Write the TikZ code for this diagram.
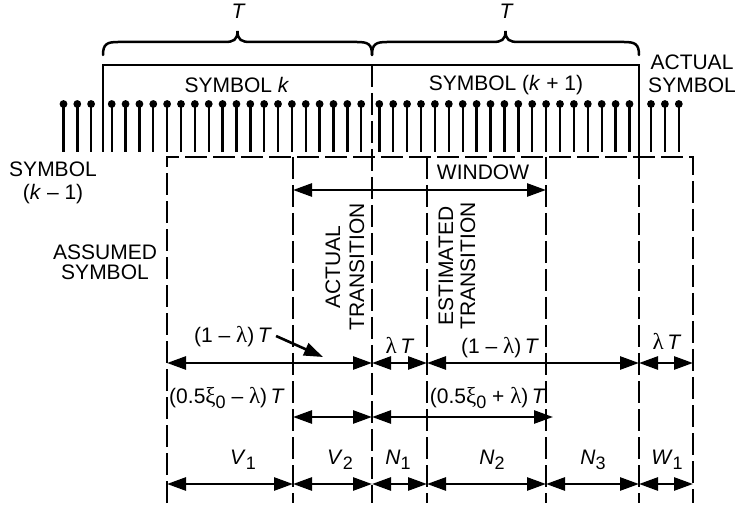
\documentclass[tikz,border=0pt]{standalone}
\usepackage{fontspec}
\setmainfont{Liberation Sans}
\newfontfamily\grfont{Liberation Serif}
\usetikzlibrary{arrows.meta}
\newcommand\mylam{{\grfont\fontsize{23}{23}\selectfont λ}}
\newcommand\myxi{{\grfont\fontsize{23}{23}\selectfont ξ}}
\newcommand\mysub[1]{\raisebox{-0.45ex}{\fontsize{18}{18}\selectfont #1}}
\begin{document}
\begin{tikzpicture}[x=1pt,y=-1pt,
  lbl/.style={font=\fontsize{21}{23}\selectfont, inner sep=0pt, align=center},
  dashv/.style={line width=2.7pt, dash pattern=on 22pt off 6pt},
  solidl/.style={line width=2.5pt},
  dimarr/.style={line width=2.6pt, {Triangle[length=19pt,width=13pt]}-{Triangle[length=19pt,width=13pt]}},
  leader/.style={line width=2.6pt, -{Triangle[length=19pt,width=13pt]}},
  stem/.style={line width=2.4pt},
]
\useasboundingbox (0,0) rectangle (736,510);

% sample stems
\foreach \i in {0,1,2} {
  \pgfmathsetmacro\xx{63.5+13.8*\i}
  \draw[stem] (\xx,104) -- (\xx,152); \fill (\xx,104) circle (3.9pt);
}
\foreach \i in {0,...,18} {
  \pgfmathsetmacro\xx{111.7+13.86*\i}
  \draw[stem] (\xx,104) -- (\xx,152); \fill (\xx,104) circle (3.9pt);
}
\foreach \i in {0,...,18} {
  \pgfmathsetmacro\xx{379.3+13.9*\i}
  \draw[stem] (\xx,104) -- (\xx,152); \fill (\xx,104) circle (3.9pt);
}
\foreach \i in {0,1,2} {
  \pgfmathsetmacro\xx{651+13.9*\i}
  \draw[stem] (\xx,104) -- (\xx,152); \fill (\xx,104) circle (3.9pt);
}

% symbol frame
\draw[solidl] (103,152) -- (103,65) -- (639,65) -- (639,157);
\draw[dashv] (372,65) -- (372,503);

% braces
\foreach \a/\b in {103/372, 372/639} {
  \pgfmathsetmacro\m{(\a+\b)/2}
  \draw[solidl, line cap=round] (\a,55) .. controls (\a,44) and (\a+4,42) .. (\a+15,42)
     -- (\m-13,42) .. controls (\m-4,42) and (\m,40) .. (\m,31)
     .. controls (\m,40) and (\m+4,42) .. (\m+13,42)
     -- (\b-15,42) .. controls (\b-4,42) and (\b,44) .. (\b,55);
}
\node[lbl, font=\fontsize{21}{23}\selectfont\itshape] (T1) at (238,11) {T};
\node[lbl, font=\fontsize{21}{23}\selectfont\itshape] (T2) at (506,11) {T};

% dashed frame
\draw[dashv] (167,503) -- (167,157) -- (693,157) -- (693,503);
\foreach \xx in {293,427,546,639} {
  \draw[dashv] (\xx,157) -- (\xx,503);
}

% coordinates
\coordinate (w1) at (293,190); \coordinate (w2) at (546,190);
\foreach \n/\xx in {a/167,b/293,c/372,d/427,e/546,f/639,g/693} {
  \coordinate (r1\n) at (\xx,363);
  \coordinate (r2\n) at (\xx,417);
  \coordinate (r3\n) at (\xx,484);
}
\coordinate (r2h) at (553,417);
\coordinate (ldtip) at (323,357);

% texts
\node[lbl] (symk) at (237,85) {SYMBOL \textit{k}};
\node[lbl] (symk1) at (506,85) {SYMBOL (\textit{k} + 1)};
\node[lbl] (actsym) at (692,74) {ACTUAL\\SYMBOL};
\node[lbl] (symkm) at (53,183) {SYMBOL\\(\textit{k} – 1)};
\node[lbl, font=\fontsize{21}{20}\selectfont] (assum) at (105,262) {ASSUMED\\SYMBOL};
\node[lbl] (win) at (483,172) {WINDOW};
\node[lbl, rotate=90, font=\fontsize{21}{24}\selectfont] (acttr) at (345,267) {ACTUAL\\TRANSITION};
\node[lbl, rotate=90, font=\fontsize{21}{22}\selectfont] (esttr) at (457,266) {ESTIMATED\\TRANSITION};

\node[lbl] (l1) at (233,337) {(1 – \mylam)\,\textit{T}};
\node[lbl] (l2) at (400,345) {\mylam\,\textit{T}};
\node[lbl] (l3) at (500,348) {(1 – \mylam)\,\textit{T}};
\node[lbl] (l4) at (667,341) {\mylam\,\textit{T}};
\node[lbl] (l5) at (227,398) {(0.5\myxi\mysub{0} – \mylam)\,\textit{T}};
\node[lbl] (l6) at (488,398) {(0.5\myxi\mysub{0} + \mylam)\,\textit{T}};

\node[lbl] (v1) at (243,460) {\textit{V}\mysub{1}};
\node[lbl] (v2) at (340,460) {\textit{V}\mysub{2}};
\node[lbl] (n1) at (398,460) {\textit{N}\mysub{1}};
\node[lbl] (n2) at (492,460) {\textit{N}\mysub{2}};
\node[lbl] (n3) at (593,460) {\textit{N}\mysub{3}};
\node[lbl] (w1l) at (667,460) {\textit{W}\mysub{1}};

% arrows
\draw[dimarr] (w1) -- (w2);
\draw[dimarr] (r1a) -- (r1c);
\draw[dimarr] (r1c) -- (r1d);
\draw[dimarr] (r1d) -- (r1f);
\draw[dimarr] (r1f) -- (r1g);
\draw[dimarr] (r2b) -- (r2c);
\draw[dimarr] (r2c) -- (r2h);
\draw[dimarr] (r3a) -- (r3b);
\draw[dimarr] (r3b) -- (r3c);
\draw[dimarr] (r3c) -- (r3d);
\draw[dimarr] (r3d) -- (r3e);
\draw[dimarr] (r3e) -- (r3f);
\draw[dimarr] (r3f) -- (r3g);
\draw[leader] ([xshift=4pt,yshift=1pt]l1.east) -- (ldtip);
\end{tikzpicture}
\end{document}
